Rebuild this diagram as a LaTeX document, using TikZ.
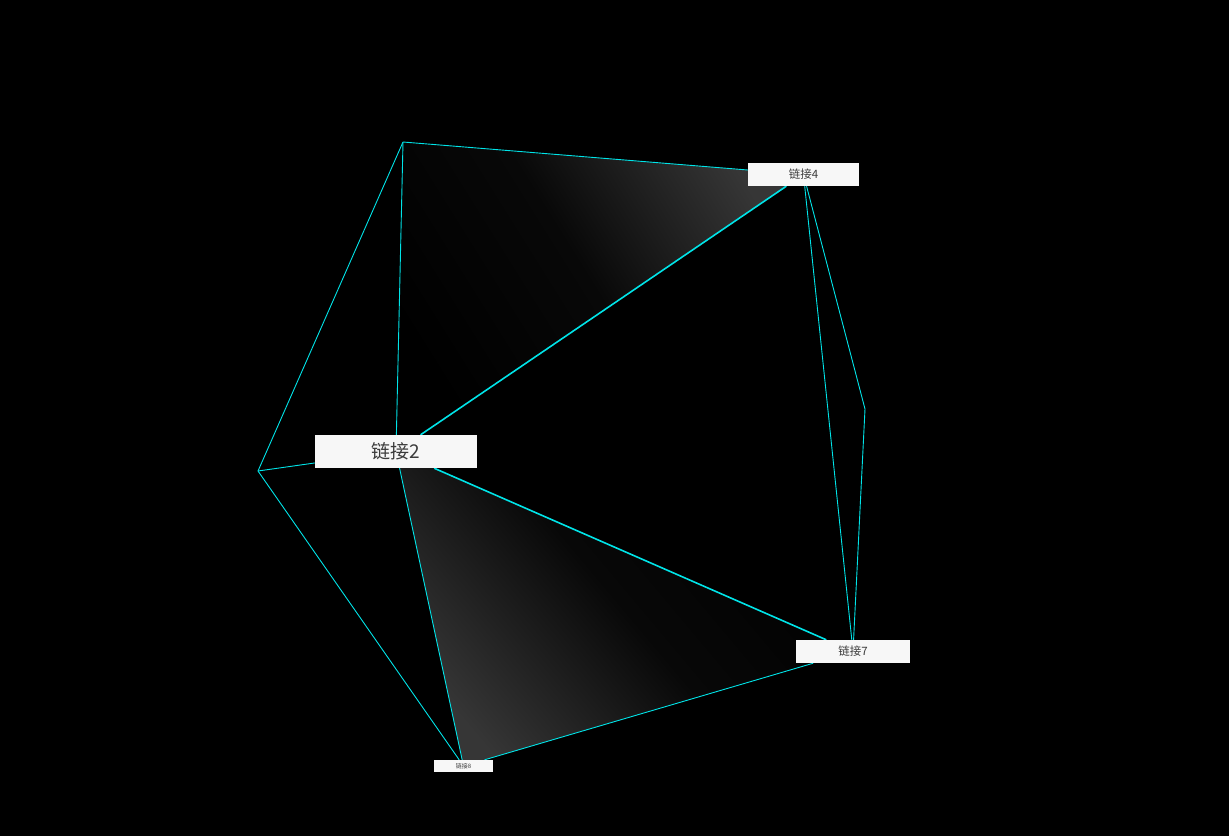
\documentclass[tikz,border=0pt]{standalone}
\usepackage{fontspec}
\newfontfamily\cjkfont{Noto Sans CJK SC}
\usetikzlibrary{backgrounds}
\definecolor{linkcyan}{RGB}{0,228,232}
\definecolor{boxwhite}{RGB}{247,247,247}
\definecolor{boxtext}{RGB}{60,60,60}
\definecolor{shadegray}{RGB}{54,54,54}
\definecolor{shademid}{RGB}{8,8,8}

\tikzset{
  linkbox/.style={fill=boxwhite, text=boxtext, inner sep=0pt, font=\cjkfont},
  thin link/.style={draw=linkcyan, line width=0.9pt},
  thick link/.style={draw=linkcyan, line width=1.6pt}
}

\begin{document}
\begin{tikzpicture}[x=1pt,y=-1pt]

\useasboundingbox (0,0) rectangle (1229,836);

\node[linkbox, minimum width=162pt, minimum height=33pt, font=\cjkfont\fontsize{19}{19}\selectfont] (l2) at (396,451.5) {链接2};
\node[linkbox, minimum width=111pt, minimum height=23pt, font=\cjkfont\fontsize{11.5}{12}\selectfont] (l4) at (803.5,174.5) {链接4};
\node[linkbox, minimum width=114pt, minimum height=23pt, font=\cjkfont\fontsize{11.5}{12}\selectfont] (l7) at (853,651.5) {链接7};
\node[linkbox, minimum width=59pt, minimum height=12pt, font=\cjkfont\fontsize{6}{6}\selectfont] (l8) at (463.5,766) {链接8};

\coordinate (top) at (403,142);
\coordinate (left) at (258,471);
\coordinate (right) at (865,409);

\begin{scope}[on background layer]
\fill[black] (0,0) rectangle (1229,836);

\shade[bottom color=black, top color=shadegray, middle color=shademid, shading angle=-58]
  (top) -- (l4.center) -- (l2.center) -- cycle;
\shade[bottom color=shadegray, top color=black, middle color=shademid, shading angle=-50]
  (l2.center) -- (l8.center) -- (l7.center) -- cycle;

\draw [thin link] (top) to (l4);
\draw [thin link] (top) to (left);
\draw [thin link] (top) to (l2);
\draw [thin link] (left) to (l2);
\draw [thin link] (left) to (l8);
\draw [thin link] (l2) to (l8);
\draw [thin link] (l8) to (l7);
\draw [thin link] (l4) to (l7);
\draw [thin link] (l4) to (right);
\draw [thin link] (right) to (l7);

\draw [thick link] (l2) to (l4);
\draw [thick link] (l2) to (l7);
\end{scope}

\end{tikzpicture}
\end{document}
